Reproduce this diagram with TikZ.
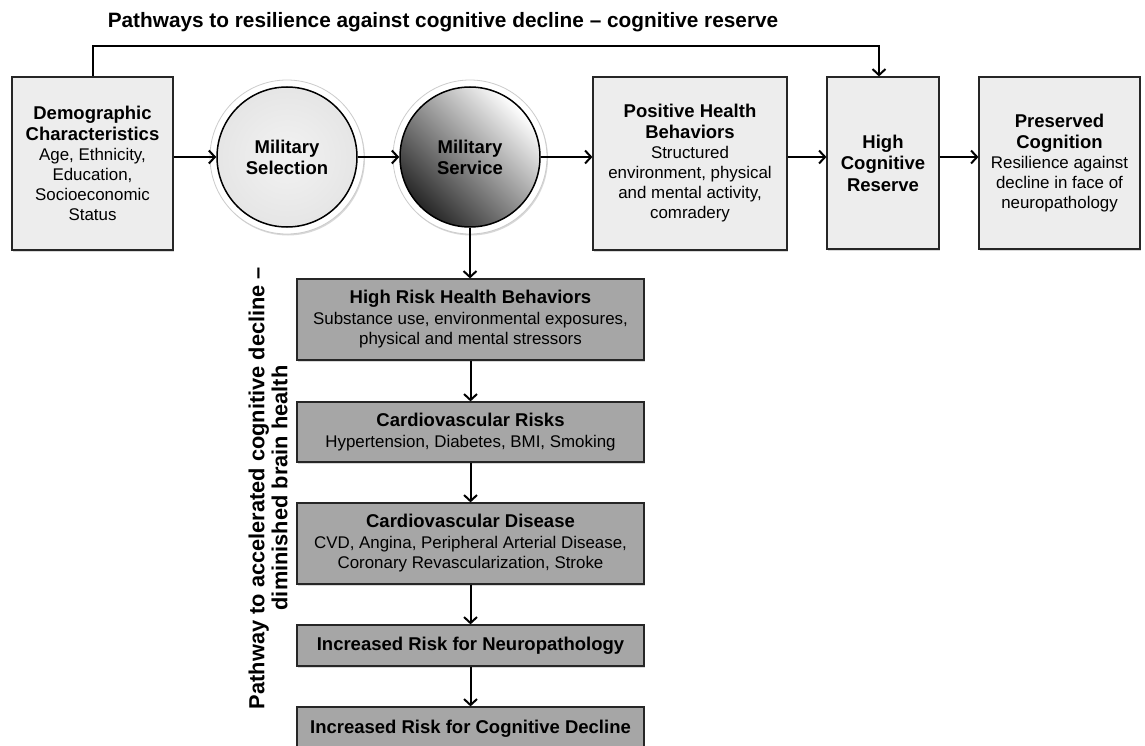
\documentclass[tikz,border=0pt]{standalone}
\usepackage{fontspec}
\setmainfont{Liberation Sans}
\usetikzlibrary{arrows.meta,shadows}
\definecolor{lightbox}{RGB}{237,237,237}
\definecolor{darkbox}{RGB}{166,166,166}
\newcommand\hd[1]{{\fontsize{18.5}{21}\selectfont\bfseries #1}}
\newcommand\rgf{\fontsize{16.9}{20}\selectfont}
\tikzset{
  box/.style={draw=black!85, line width=1.2pt, inner sep=0pt, align=center, font=\rgf,
    drop shadow={shadow xshift=1.2pt, shadow yshift=-2pt, opacity=0.3}},
  lbox/.style={box, fill=lightbox},
  dbox/.style={box, fill=darkbox},
  ring/.style={circle, minimum size=154pt, inner sep=0pt, fill=white, draw=black!20, line width=0.8pt,
    drop shadow={shadow xshift=1pt, shadow yshift=-1.5pt, opacity=0.3}},
  circ/.style={circle, minimum size=140pt, inner sep=0pt, draw=black, line width=1.5pt, align=center,
    font=\fontsize{18.5}{21}\selectfont\bfseries},
  arr/.style={line width=2pt, -{Straight Barb[length=6pt,width=13pt]}},
}
\begin{document}
\begin{tikzpicture}[x=1pt,y=-1pt]
\clip (0,0) rectangle (1145,746);
\fill[white] (0,0) rectangle (1145,746);

\node[font=\fontsize{20.8}{24}\selectfont\bfseries] (title) at (443,22)
  {Pathways to resilience against cognitive decline – cognitive reserve};

\node[lbox, minimum width=161pt, minimum height=173pt] (demo) at (92.5,163.5)
  {\hd{Demographic}\\[1pt]\hd{Characteristics}\\[0pt]Age, Ethnicity,\\Education,\\Socioeconomic\\Status};

\node[ring] (selring) at (287,157) {};
\node[circ, inner color=gray!10, outer color=gray!20] (sel) at (287,157) {Military\\Selection};

\node[ring] (servring) at (470,157) {};
\node[circ, top color=white, middle color=black!30, bottom color=black!85, shading angle=-45] (serv) at (470,157) {Military\\Service};

\node[lbox, minimum width=194pt, minimum height=173pt] (pos) at (690,163.5)
  {\hd{Positive Health}\\[1pt]\hd{Behaviors}\\[0pt]Structured\\environment, physical\\and mental activity,\\comradery};
\node[lbox, minimum width=112pt, minimum height=172pt, font=\fontsize{18.5}{21.5}\selectfont\bfseries] (hcr) at (883,163)
  {High\\Cognitive\\Reserve};
\node[lbox, minimum width=161pt, minimum height=172pt] (pc) at (1059.5,163)
  {\hd{Preserved}\\[1pt]\hd{Cognition}\\[0pt]Resilience against\\decline in face of\\neuropathology};

\node[dbox, minimum width=347pt, minimum height=81pt] (hr) at (470.5,319.5)
  {\hd{High Risk Health Behaviors}\\[1pt]Substance use, environmental exposures,\\physical and mental stressors};
\node[dbox, minimum width=347pt, minimum height=60pt] (cvr) at (470.5,432)
  {\hd{Cardiovascular Risks}\\[1pt]Hypertension, Diabetes, BMI, Smoking};
\node[dbox, minimum width=347pt, minimum height=81pt] (cvd) at (470.5,543.5)
  {\hd{Cardiovascular Disease}\\[1pt]CVD, Angina, Peripheral Arterial Disease,\\Coronary Revascularization, Stroke};
\node[dbox, minimum width=347pt, minimum height=41pt] (irn) at (470.5,645.5)
  {\hd{Increased Risk for Neuropathology}};
\node[dbox, minimum width=347pt, minimum height=44pt] (ircd) at (470.5,729)
  {\hd{Increased Risk for Cognitive Decline}};

\node[rotate=90, align=center, font=\fontsize{21.8}{23}\selectfont\bfseries] (side) at (268,488)
  {Pathway to accelerated cognitive decline –\\diminished brain health};

\draw[arr] (sel -| demo.east) -- (sel.west);
\draw[arr] (sel.east) -- (serv.west);
\draw[arr] (serv.east) -- (serv -| pos.west);
\draw[arr] (pos.east |- serv) -- (hcr.west |- serv);
\draw[arr] (hcr.east |- serv) -- (pc.west |- serv);
\draw[arr] (demo.north) -- ++(0,-30) -| ([xshift=-4pt]hcr.north);

\draw[arr] (serv.south) -- (serv.south |- hr.north);
\draw[arr] (hr.south) -- (cvr.north);
\draw[arr] (cvr.south) -- (cvd.north);
\draw[arr] (cvd.south) -- (irn.north);
\draw[arr] (irn.south) -- (ircd.north);
\end{tikzpicture}
\end{document}
